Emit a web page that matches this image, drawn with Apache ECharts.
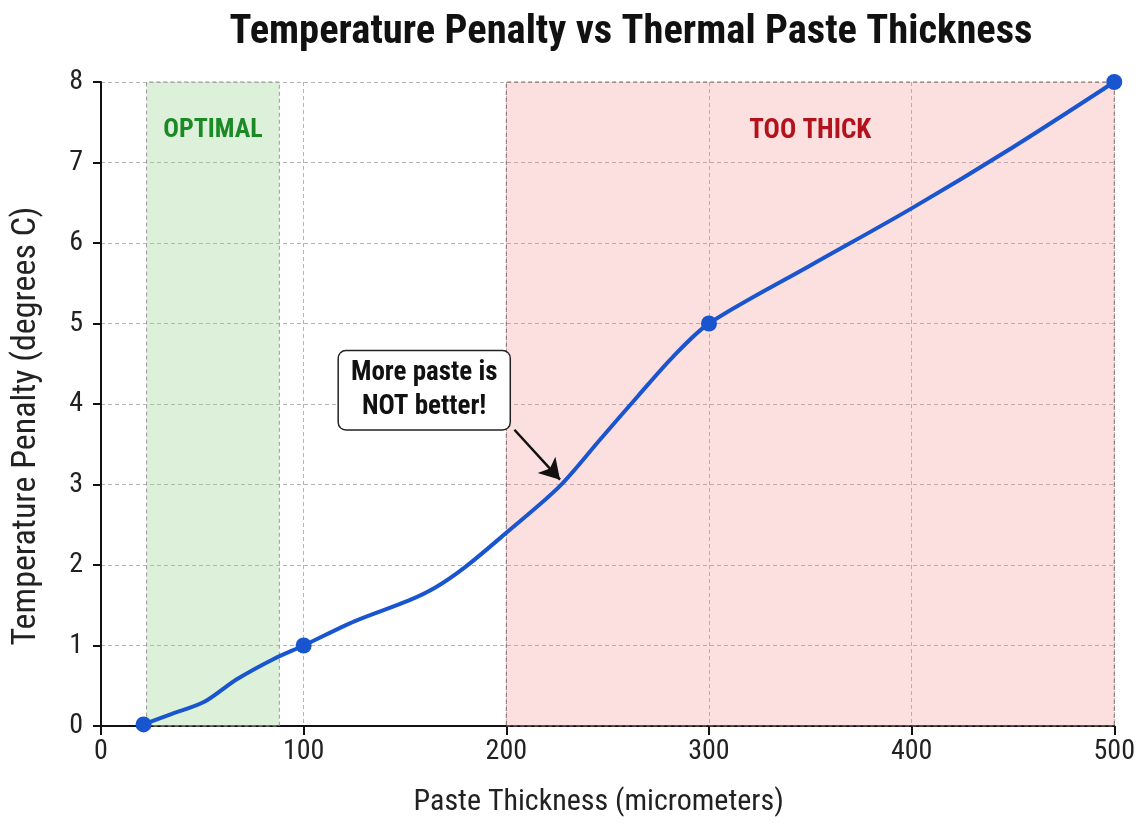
<!DOCTYPE html>
<html>
<head>
<meta charset="utf-8">
<title>Temperature Penalty vs Thermal Paste Thickness</title>
<script src="https://cdn.jsdelivr.net/npm/echarts@6/dist/echarts.min.js"></script>
<style>
  html, body { margin: 0; padding: 0; background: #fff; }
  #chart { width: 1138px; height: 829px; }
</style>
</head>
<body>
<div id="chart"></div>
<script>
// Paste thickness (micrometers) and resulting temperature penalty (degrees C)
const thickness = [21, 35, 51, 67, 85, 100, 125, 152, 165, 180, 200, 226, 246, 265, 282, 300, 350, 400, 450, 500];
const penalty   = [0.02, 0.15, 0.30, 0.58, 0.83, 1.0, 1.30, 1.56, 1.72, 1.98, 2.40, 2.97, 3.55, 4.10, 4.58, 5.0, 5.72, 6.43, 7.19, 8.0];

// Measured points shown with markers
const keyThickness = [21, 100, 300, 500];
const keyPenalty   = [0.02, 1.0, 5.0, 8.0];

// Shaded zones
const optimalZone = [22.5, 88];
const thickZone   = [200, 500];

// Axis ticks
const xTicks = [0, 100, 200, 300, 400, 500];
const yTicks = [0, 1, 2, 3, 4, 5, 6, 7, 8];

// Callout text and where it points
const calloutText = 'More paste is\nNOT better!';
const calloutAt = [159.5, 4.17];
const arrowFrom = [204, 3.68];
const arrowTo   = [226.5, 3.06];

const FONT = '"Liberation Sans Narrow", "Arial Narrow", "Roboto Condensed", "Liberation Sans", sans-serif';

const curve = thickness.map((x, i) => [x, penalty[i]]);
const keyPoints = keyThickness.map((x, i) => [x, keyPenalty[i]]);

const chart = echarts.init(document.getElementById('chart'), null, { renderer: 'canvas' });

const gridLine = { show: true, lineStyle: { color: '#b4b4b4', width: 1, type: [4, 3] } };

chart.setOption({
  animation: false,
  backgroundColor: '#ffffff',
  title: {
    text: 'Temperature Penalty vs Thermal Paste Thickness',
    left: 626,
    top: 7,
    textAlign: 'center',
    textStyle: { fontFamily: FONT, fontSize: 40.5, fontWeight: 'bold', color: '#111' }
  },
  grid: { left: 101, right: 23, top: 82, bottom: 103 },
  xAxis: {
    type: 'value',
    min: xTicks[0],
    max: xTicks[xTicks.length - 1],
    interval: xTicks[1] - xTicks[0],
    name: 'Paste Thickness (micrometers)',
    nameLocation: 'middle',
    nameGap: 61,
    nameTextStyle: { fontFamily: FONT, fontSize: 30, color: '#222', padding: [0, 18, 0, 0] },
    axisLine: { show: true, onZero: false, lineStyle: { color: '#111', width: 2 } },
    axisTick: { show: true, length: 9, lineStyle: { color: '#111', width: 2 } },
    axisLabel: { fontFamily: FONT, fontSize: 28, color: '#222', margin: 12 },
    splitLine: gridLine
  },
  yAxis: {
    type: 'value',
    min: yTicks[0],
    max: yTicks[yTicks.length - 1],
    interval: yTicks[1] - yTicks[0],
    name: 'Temperature Penalty (degrees C)',
    nameLocation: 'middle',
    nameGap: 58,
    nameRotate: 90,
    nameTextStyle: { fontFamily: FONT, fontSize: 34, color: '#222', padding: [0, 44, 0, 0] },
    axisLine: { show: true, onZero: false, lineStyle: { color: '#111', width: 2 } },
    axisTick: { show: true, length: 8, lineStyle: { color: '#111', width: 2 } },
    axisLabel: { fontFamily: FONT, fontSize: 28, color: '#222', margin: 18 },
    splitLine: gridLine
  },
  series: [
    {
      name: 'Penalty',
      type: 'line',
      data: curve,
      smooth: 0.3,
      showSymbol: false,
      lineStyle: { color: '#1a55d0', width: 4 },
      z: 3,
      markArea: {
        silent: true,
        data: [
          [
            {
              xAxis: optimalZone[0],
              itemStyle: { color: 'rgba(150,210,140,0.32)', borderColor: '#999', borderWidth: 1, borderType: [4, 3] },
              label: { show: true, position: 'insideTop', distance: 36, formatter: 'OPTIMAL',
                       fontFamily: FONT, fontSize: 26, fontWeight: 'bold', color: '#1b8a26' }
            },
            { xAxis: optimalZone[1] }
          ],
          [
            {
              xAxis: thickZone[0],
              itemStyle: { color: 'rgba(245,130,130,0.26)', borderColor: '#8a6a6a', borderWidth: 1, borderType: [4, 3] },
              label: { show: true, position: 'insideTop', distance: 36, formatter: 'TOO THICK',
                       fontFamily: FONT, fontSize: 27, fontWeight: 'bold', color: '#b3121c' }
            },
            { xAxis: thickZone[1] }
          ]
        ]
      },
      markLine: {
        silent: true,
        symbol: ['none', 'arrow'],
        symbolSize: [18, 20],
        label: { show: false },
        lineStyle: { color: '#111', width: 2.5, type: 'solid' },
        data: [[{ coord: arrowFrom }, { coord: arrowTo }]]
      },
      markPoint: {
        silent: true,
        symbol: 'rect',
        symbolSize: 1,
        itemStyle: { color: 'rgba(0,0,0,0)' },
        label: {
          show: true,
          position: 'inside',
          formatter: calloutText,
          fontFamily: FONT,
          fontSize: 27,
          fontWeight: 'bold',
          color: '#111',
          lineHeight: 34,
          align: 'center',
          backgroundColor: '#ffffff',
          borderColor: '#222',
          borderWidth: 1.5,
          borderRadius: 7,
          padding: [5, 12, 5, 12]
        },
        data: [{ coord: calloutAt }]
      }
    },
    {
      name: 'Measured',
      type: 'scatter',
      data: keyPoints,
      symbol: 'circle',
      symbolSize: 16,
      itemStyle: { color: '#1a55d0', opacity: 1 },
      z: 4
    }
  ]
});
</script>
</body>
</html>
